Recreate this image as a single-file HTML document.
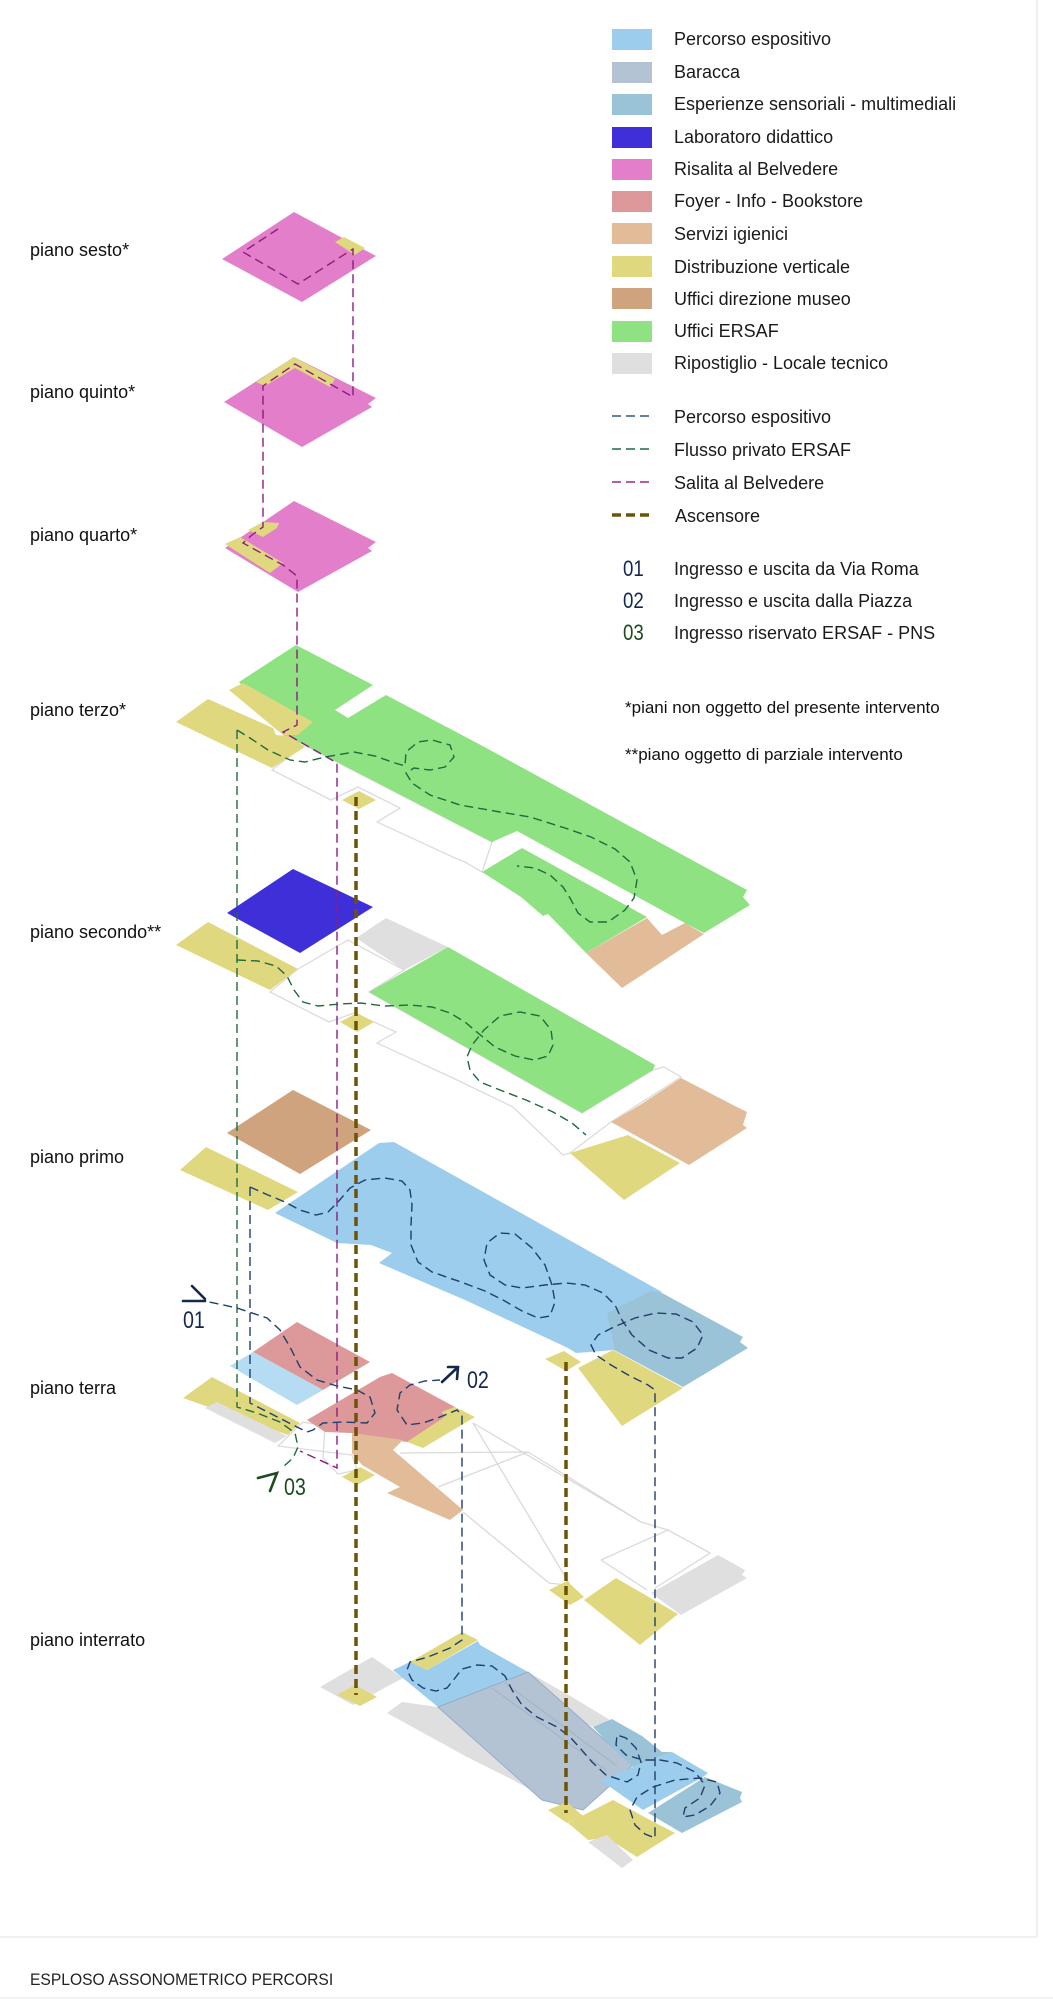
<!DOCTYPE html>
<html><head><meta charset="utf-8"><style>
html,body{margin:0;padding:0;background:#fff;}
svg{display:block;}
text{font-family:"Liberation Sans",Arial,sans-serif;}
</style></head><body>
<svg width="1053" height="2000" viewBox="0 0 1053 2000" xmlns="http://www.w3.org/2000/svg">
<rect width="1053" height="2000" fill="#fff"/>
<line x1="1037" y1="0" x2="1037" y2="1937" stroke="#f0f0f0" stroke-width="2"/>
<line x1="0" y1="1937" x2="1037" y2="1937" stroke="#f0f0f0" stroke-width="2"/>
<line x1="0" y1="1998" x2="1053" y2="1998" stroke="#f3f3f3" stroke-width="2"/>

<!-- LEGEND -->
<g>
<rect x="612" y="29" width="40" height="21" fill="#9dcdec"/>
<rect x="612" y="62" width="40" height="21" fill="#b3c3d3"/>
<rect x="612" y="94" width="40" height="21" fill="#9ac3d8"/>
<rect x="612" y="127" width="40" height="21" fill="#3e2fd9"/>
<rect x="612" y="159" width="40" height="21" fill="#e37fca"/>
<rect x="612" y="191" width="40" height="21" fill="#dd9999"/>
<rect x="612" y="223" width="40" height="21" fill="#e2bc99"/>
<rect x="612" y="256" width="40" height="21" fill="#e0d87f"/>
<rect x="612" y="288" width="40" height="21" fill="#d0a37f"/>
<rect x="612" y="321" width="40" height="21" fill="#8fe281"/>
<rect x="612" y="353" width="40" height="21" fill="#dfdfdf"/>
</g>
<g font-size="18" fill="#1a1a1a">
<text x="674" y="45">Percorso espositivo</text>
<text x="674" y="78">Baracca</text>
<text x="674" y="110">Esperienze sensoriali - multimediali</text>
<text x="674" y="143">Laboratoro didattico</text>
<text x="674" y="175">Risalita al Belvedere</text>
<text x="674" y="207">Foyer - Info - Bookstore</text>
<text x="674" y="240">Servizi igienici</text>
<text x="674" y="273">Distribuzione verticale</text>
<text x="674" y="305">Uffici direzione museo</text>
<text x="674" y="337">Uffici ERSAF</text>
<text x="674" y="369">Ripostiglio - Locale tecnico</text>
<text x="674" y="423">Percorso espositivo</text>
<text x="674" y="456">Flusso privato ERSAF</text>
<text x="674" y="489">Salita al Belvedere</text>
<text x="675" y="522">Ascensore</text>
<text x="674" y="575">Ingresso e uscita da Via Roma</text>
<text x="674" y="607">Ingresso e uscita dalla Piazza</text>
<text x="674" y="639">Ingresso riservato ERSAF - PNS</text>
</g>
<g stroke-dasharray="9 5" fill="none">
<line x1="612" y1="416" x2="654" y2="416" stroke="#2c5a86" stroke-width="1.6"/>
<line x1="612" y1="449" x2="654" y2="449" stroke="#1f6b3e" stroke-width="1.6"/>
<line x1="612" y1="482" x2="654" y2="482" stroke="#9a2a8a" stroke-width="1.6"/>
<line x1="612" y1="515" x2="654" y2="515" stroke="#6e5206" stroke-width="3.5"/>
</g>
<g font-size="22">
<text x="623" y="576" fill="#14284f" transform="translate(623 0) scale(0.85 1) translate(-623 0)">01</text>
<text x="623" y="608" fill="#14284f" transform="translate(623 0) scale(0.85 1) translate(-623 0)">02</text>
<text x="623" y="640" fill="#1d4a1f" transform="translate(623 0) scale(0.85 1) translate(-623 0)">03</text>
</g>
<g font-size="17" fill="#111">
<text x="625" y="713">*piani non oggetto del presente intervento</text>
<text x="625" y="760">**piano oggetto di parziale intervento</text>
</g>

<!-- FLOOR LABELS -->
<g font-size="18" fill="#111">
<text x="30" y="256">piano sesto*</text>
<text x="30" y="398">piano quinto*</text>
<text x="30" y="541">piano quarto*</text>
<text x="30" y="716">piano terzo*</text>
<text x="30" y="938">piano secondo**</text>
<text x="30" y="1163">piano primo</text>
<text x="30" y="1394">piano terra</text>
<text x="30" y="1646">piano interrato</text>
</g>
<text x="30" y="1985" font-size="17" fill="#222" transform="translate(30 0) scale(0.92 1) translate(-30 0)">ESPLOSO ASSONOMETRICO PERCORSI</text>

<!-- SESTO -->
<polygon points="294,212 376,256 371,259 302,302 222,259" fill="#e37fca"/>
<polygon points="335,242 344,237 365,248 355,255" fill="#e0d87f"/>
<!-- QUINTO -->
<polygon points="294,357 376,398 368,404 372,407 302,447 224,402" fill="#e37fca"/>
<polygon points="256,382 294,357 335,379 330,387 295,368 265,386" fill="#e0d87f"/>
<!-- QUARTO -->
<polygon points="294,501 376,542 368,548 372,551 298,592 225,548" fill="#e37fca"/>
<polygon points="248,530 263,522 279,523 277,528 263,537" fill="#e0d87f"/>
<polygon points="225,544 240,537 283,563 270,573" fill="#e0d87f"/>

<!-- TERZO -->
<polygon points="272,770 304,745 492,842 482,872 465,862 455,858 377,822 400,808 358,787 331,800" fill="#fff" stroke="#dcdcdc" stroke-width="1.3"/>
<polygon points="239,682 296,645 373,685 335,710 348,718 386,695 477,743 747,890 743,897 750,905 704,933 685,923 517,831 492,842 304,745 283,735" fill="#8fe281"/>
<polygon points="482,872 522,848 647,917 586,953 548,914 543,916 521,897" fill="#8fe281"/>
<polygon points="586,953 647,918 662,935 685,923 704,934 622,988" fill="#e2bc99"/>
<polygon points="229,690 243,683 313,722 298,735 283,735" fill="#e0d87f"/>
<polygon points="176,722 208,699 273,728 276,735 290,736 305,747 272,768" fill="#e0d87f"/>
<polygon points="342,800 359,791 376,800 359,809" fill="#e0d87f"/>

<!-- SECONDO -->
<polygon points="270,992 298,969 348,940 404,970 369,992 582,1113 653,1070 664,1067 681,1077 611,1122 570,1153 563,1155 513,1107 455,1079 377,1043 396,1032 354,1013 329,1022" fill="#fff" stroke="#dcdcdc" stroke-width="1.3"/>
<polygon points="293,869 373,907 300,953 227,913" fill="#3e2fd9"/>
<polygon points="176,945 208,922 298,969 270,990" fill="#e0d87f"/>
<polygon points="356,938 386,918 448,947 404,970" fill="#dfdfdf"/>
<polygon points="369,992 448,947 655,1065 653,1070 582,1113" fill="#8fe281"/>
<polygon points="611,1122 640,1105 681,1078 733,1105 747,1112 743,1125 747,1128 689,1165" fill="#e2bc99"/>
<polygon points="570,1153 628,1135 680,1163 624,1200" fill="#e0d87f"/>
<polygon points="340,1022 357,1013 374,1022 357,1032" fill="#e0d87f"/>

<!-- PRIMO -->
<polygon points="293,1090 371,1130 300,1174 227,1133" fill="#d0a37f"/>
<polygon points="180,1170 206,1147 298,1192 268,1210" fill="#e0d87f"/>
<polygon points="275,1213 379,1143 394,1142 662,1292 611,1333 614,1350 590,1352 576,1353 568,1348 465,1300 379,1263 392,1253 371,1245 337,1243" fill="#9dcdec"/>
<polygon points="607,1313 651,1291 662,1293 743,1337 740,1342 748,1348 683,1387 614,1350 611,1333" fill="#9ac3d8"/>
<polygon points="578,1368 613,1350 683,1388 622,1426" fill="#e0d87f"/>
<polygon points="545,1359 564,1351 581,1362 566,1371" fill="#e0d87f"/>

<!-- TERRA -->
<polygon points="278,1446 303,1422 325,1426 323,1458 338,1474 357,1470 352,1455" fill="#fff" stroke="#dcdcdc" stroke-width="1.3"/>
<g fill="none" stroke="#dadada" stroke-width="1.3">
<polyline points="473,1423 641,1522 668,1530 710,1553 655,1588"/>
<polyline points="473,1423 572,1588"/>
<polyline points="400,1453 528,1452 641,1522"/>
<polyline points="438,1487 528,1452"/>
<polyline points="463,1512 549,1583 566,1585"/>
<polyline points="601,1560 668,1530"/>
<polyline points="601,1560 647,1590"/>
</g>
<polygon points="253,1352 297,1322 370,1362 323,1390" fill="#dd9999"/>
<polygon points="230,1366 253,1352 323,1390 297,1405" fill="#b5dcf2"/>
<polygon points="307,1420 380,1377 392,1373 455,1407 442,1412 445,1417 407,1442 352,1433 325,1432" fill="#dd9999"/>
<polygon points="445,1417 442,1412 455,1407 475,1417 423,1448 407,1442" fill="#e0d87f"/>
<polygon points="352,1433 403,1440 393,1450 463,1510 450,1520 387,1493 400,1487 362,1465 352,1453" fill="#e2bc99"/>
<polygon points="183,1398 212,1377 300,1423 288,1435" fill="#e0d87f"/>
<polygon points="205,1408 217,1402 287,1436 275,1443" fill="#dfdfdf"/>
<polygon points="342,1477 360,1467 375,1475 357,1485" fill="#e0d87f"/>
<polygon points="651,1593 718,1555 745,1570 742,1575 747,1578 681,1615" fill="#dfdfdf"/>
<polygon points="584,1600 616,1578 678,1614 640,1645" fill="#e0d87f"/>
<polygon points="549,1590 567,1581 584,1597 570,1605" fill="#e0d87f"/>

<!-- INTERRATO -->
<polygon points="320,1687 372,1657 403,1678 353,1705" fill="#dfdfdf"/>
<polygon points="387,1713 402,1702 438,1707 540,1795 513,1780 467,1757" fill="#dfdfdf"/>
<polygon points="528,1672 572,1697 610,1720 593,1727 560,1710" fill="#dfdfdf"/>
<polygon points="337,1695 355,1685 377,1697 360,1706" fill="#e0d87f"/>
<polygon points="393,1670 410,1662 427,1670 478,1641 480,1645 528,1672 438,1707" fill="#9dcdec"/>
<polygon points="410,1662 462,1632 478,1640 427,1670" fill="#e0d87f"/>
<polygon points="438,1707 528,1672 633,1765 583,1810 542,1800" fill="#b3c3d3" stroke="#93adc8" stroke-width="1"/>
<line x1="492" y1="1688" x2="606" y2="1770" stroke="#9fb3c8" stroke-width="1"/>
<line x1="505" y1="1683" x2="617" y2="1766" stroke="#9fb3c8" stroke-width="1"/>
<polygon points="593,1727 612,1719 642,1736 662,1752 672,1752 633,1767 610,1745" fill="#9ac3d8"/>
<polygon points="600,1780 633,1767 672,1752 708,1773 703,1777 643,1810" fill="#9dcdec"/>
<polygon points="648,1813 705,1777 742,1792 740,1798 742,1802 682,1833" fill="#9ac3d8"/>
<polygon points="568,1823 613,1800 650,1820 675,1833 637,1857 607,1838 588,1840" fill="#e0d87f"/>
<polygon points="548,1810 567,1802 583,1816 567,1823" fill="#e0d87f"/>
<polygon points="588,1842 607,1835 633,1860 622,1868" fill="#dfdfdf"/>

<!-- VERTICAL CONNECTORS -->
<g fill="none" stroke-dasharray="9 5" stroke-width="1.4">
<!-- purple -->
<polyline stroke="#8b1e7e" points="278,229 243,252 298,284 353,249 353,397 295,364 263,386 263,527 252,535 243,543 283,565 297,576 297,725 283,732 337,763 337,1468 300,1451"/>
<!-- green -->
<polyline stroke="#1f6b3e" points="237,730 237,1407 257,1413 280,1422 295,1433 298,1447 293,1458 283,1467"/>
<polyline stroke="#1f6b3e" points="237,730 250,738 268,750 290,760 305,762 325,757 354,752 375,756 395,763 405,766 406,752 418,742 432,740 450,745 454,757 445,767 430,770 414,768 406,773 412,783 430,795 460,805 500,812 530,817 565,828 591,837 615,849 630,862 637,880 634,898 625,910 608,922 590,922 578,913 570,898 563,887 550,875 535,868 517,866"/>
<polyline stroke="#1f6b3e" points="237,960 258,961 276,966 287,976 294,990 303,1002 318,1006 340,1004 360,1003 385,1006 410,1005 432,1007 450,1013 465,1022 478,1033 495,1047 515,1056 534,1060 548,1056 553,1045 551,1030 540,1016 520,1012 500,1016 484,1030 472,1045 467,1057 470,1070 480,1082 500,1090 526,1100 553,1112 572,1123 586,1135"/>
<!-- blue -->
<polyline stroke="#1f3f6e" points="250,1187 268,1195 285,1202 300,1210 316,1215 328,1212 338,1202 350,1188 365,1180 385,1178 402,1181 410,1190 412,1205 411,1225 411,1245 418,1262 432,1272 461,1282 485,1291 503,1300 522,1311 538,1318 550,1316 555,1302 552,1285 545,1265 532,1248 515,1234 500,1233 487,1243 484,1260 490,1275 505,1285 522,1288 545,1285 566,1283 585,1285 603,1293 615,1305 622,1320 632,1335 649,1350 668,1358 682,1358 697,1348 703,1335 693,1322 676,1314 656,1313 635,1318 614,1327 598,1335 591,1345 596,1355 611,1365 630,1376 648,1385 655,1390 655,1838 645,1834 635,1825 630,1810 637,1797 653,1787 675,1780 700,1778 717,1782 720,1793 710,1806 695,1815 683,1817 685,1808 700,1798 705,1785 695,1772 677,1763 660,1760 643,1760 626,1755 616,1745 617,1735 626,1738 636,1748 641,1762 638,1775 627,1782 606,1775 592,1762 580,1748 570,1737 557,1727 537,1717 522,1705 512,1690 505,1676 492,1666 477,1665 462,1669 455,1678 447,1688 436,1691 423,1688 412,1680 407,1670 410,1662 428,1657 450,1648 462,1640 462,1415 457,1410 440,1417 423,1423 407,1425 397,1410 400,1393 410,1385 425,1381 440,1380"/>
<polyline stroke="#1f3f6e" points="250,1187 250,1403 297,1427 307,1432 313,1430 323,1423 343,1422 367,1423 375,1413 370,1397 357,1390 337,1386 317,1380 300,1367 290,1347 280,1330 267,1318 237,1308 205,1301"/>
</g>
<!-- elevator -->
<g fill="none" stroke="#6e5206" stroke-width="3.5" stroke-dasharray="9 5">
<line x1="356" y1="797" x2="356" y2="1695"/>
<line x1="566" y1="1362" x2="566" y2="1813"/>
</g>

<!-- ENTRANCE MARKS -->
<g fill="none" stroke-linecap="round">
<path d="M183 1301 L205 1301 M192 1286 L205 1299" stroke="#14284f" stroke-width="2.6"/>
<path d="M442 1382 L457 1368 M448 1367 L458 1367 L457 1379" stroke="#14284f" stroke-width="2.6"/>
<path d="M258 1478 L277 1473 L270 1491" stroke="#1d4a1f" stroke-width="2.6"/>
</g>
<g font-size="24">
<text x="183" y="1328" fill="#14284f" transform="translate(183 0) scale(0.82 1) translate(-183 0)">01</text>
<text x="467" y="1388" fill="#14284f" transform="translate(467 0) scale(0.82 1) translate(-467 0)">02</text>
<text x="284" y="1495" fill="#1d4a1f" transform="translate(284 0) scale(0.82 1) translate(-284 0)">03</text>
</g>
</svg>
</body></html>
